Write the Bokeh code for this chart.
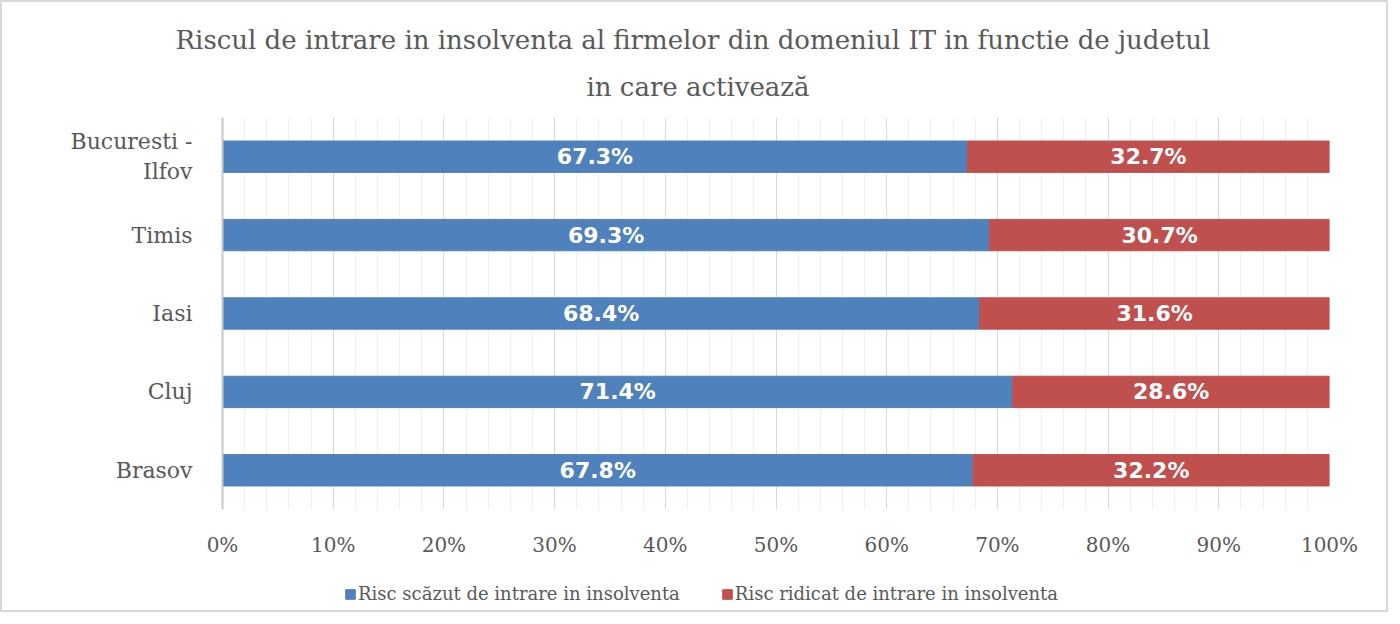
from bokeh.plotting import figure
from bokeh.layouts import column
from bokeh.models import (FactorRange, Range1d, SingleIntervalTicker, PrintfTickFormatter,
                          Legend, LegendItem, Title, ColumnDataSource)
from bokeh.core.properties import value
from bokeh.embed import file_html
from bokeh.resources import INLINE

title_line1 = "Riscul de intrare in insolventa al firmelor din domeniul IT in functie de judetul"
title_line2 = "in care activează"
judete = ["Bucuresti -\nIlfov", "Timis", "Iasi", "Cluj", "Brasov"]
risc_scazut = [67.3, 69.3, 68.4, 71.4, 67.8]
risc_ridicat = [32.7, 30.7, 31.6, 28.6, 32.2]
serii = ["Risc scăzut de intrare in insolventa", "Risc ridicat de intrare in insolventa"]
culori = ["#4F81BD", "#C0504D"]

SERIF = "DejaVu Serif"
GREY = "#595959"
W = 1384
H_MAIN = 558
H_LEG = 50

factors = judete[::-1]
p = figure(width=W, height=H_MAIN,
           y_range=FactorRange(factors=factors, range_padding=0),
           x_range=Range1d(0, 100),
           output_backend="svg", toolbar_location=None,
           min_border_left=220, min_border_right=57,
           min_border_top=115, min_border_bottom=H_MAIN - 115 - 392)
p.outline_line_color = None
p.background_fill_color = "white"
p.border_fill_color = "white"

src = ColumnDataSource(dict(jud=judete, scazut=risc_scazut, ridicat=risc_ridicat))
rs = p.hbar_stack(["scazut", "ridicat"], y="jud", height=0.4, color=culori, source=src)

# data labels
lab_x = [v / 2 for v in risc_scazut] + [a + b / 2 for a, b in zip(risc_scazut, risc_ridicat)]
lab_y = judete + judete
lab_t = [f"{v:.1f}%" for v in risc_scazut] + [f"{v:.1f}%" for v in risc_ridicat]
p.text(x=lab_x, y=lab_y, text=lab_t, text_align="center", text_baseline="middle",
       text_color="white", text_font=value("DejaVu Sans"), text_font_style="bold",
       text_font_size="22px")

# axes
ticker = SingleIntervalTicker(interval=10, num_minor_ticks=5)
p.xaxis.ticker = ticker
p.xaxis.formatter = PrintfTickFormatter(format="%d%%")
p.xaxis.axis_line_color = None
p.xaxis.major_tick_line_color = None
p.xaxis.minor_tick_line_color = None
p.xaxis.major_label_standoff = 17
p.xaxis.major_label_text_font = SERIF
p.xaxis.major_label_text_font_size = "20px"
p.xaxis.major_label_text_color = GREY

p.yaxis.axis_line_color = "#c8c8c8"
p.yaxis.axis_line_width = 2
p.yaxis.major_tick_line_color = None
p.yaxis.minor_tick_line_color = None
p.yaxis.major_label_standoff = 24
p.yaxis.major_label_text_font = SERIF
p.yaxis.major_label_text_font_size = "22px"
p.yaxis.major_label_text_color = GREY

p.xgrid.ticker = ticker
p.xgrid.grid_line_color = "#d9d9d9"
p.xgrid.minor_grid_line_color = "#efefef"
p.ygrid.grid_line_color = None

# title (two lines)
p.title.text = title_line1
p.title.align = "left"
p.title.offset = -47
p.title.text_font = SERIF
p.title.text_font_size = "26px"
p.title.text_font_style = "normal"
p.title.text_color = GREY
p.title.standoff = 0
p.add_layout(Title(text=title_line2, align="left", offset=364, text_font=SERIF,
                   text_font_size="26px", text_font_style="normal", text_color=GREY,
                   standoff=31), "above")

# legend strip (series hidden, only the legend is visible)
pl = figure(width=W, height=H_LEG, x_range=Range1d(0, 100),
            y_range=FactorRange(factors=factors),
            output_backend="svg", toolbar_location=None,
            min_border_left=0, min_border_right=0, min_border_top=0, min_border_bottom=0)
pl.axis.visible = False
pl.grid.grid_line_color = None
pl.outline_line_color = None
pl.border_fill_color = "white"
pl.background_fill_color = "white"
leg_r = pl.hbar_stack(["scazut", "ridicat"], y="jud", height=0.4, color=culori, source=src)
for r in leg_r:
    r.visible = False
legend = Legend(items=[LegendItem(label=serii[i], renderers=[leg_r[i]]) for i in range(2)],
                orientation="horizontal", location=(122, 6),
                glyph_width=12, glyph_height=12, label_standoff=2, spacing=41,
                padding=5, margin=0, label_height=16,
                label_text_font=SERIF, label_text_font_size="18px", label_text_color=GREY,
                border_line_color=None, background_fill_alpha=0,
                inactive_fill_alpha=0)
pl.add_layout(legend, "center")

layout = column(p, pl, spacing=0)
layout.styles = {"border": "2px solid #d9d9d9"}
open("out.html", "w").write(file_html(layout, INLINE))
